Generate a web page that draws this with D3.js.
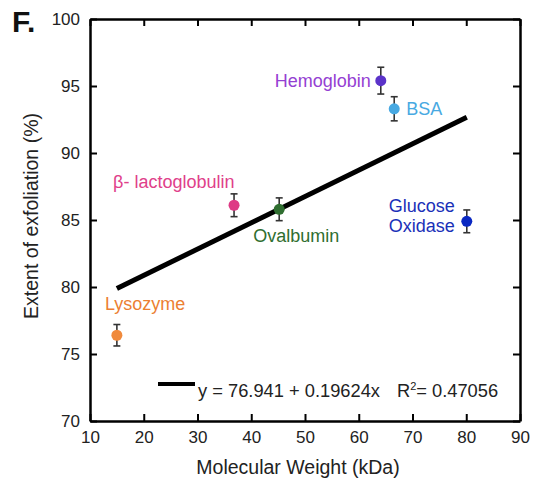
<!DOCTYPE html>
<html>
<head>
<meta charset="utf-8">
<script src="https://cdn.jsdelivr.net/npm/d3@7"></script>
<style>
  body { margin: 0; background: #fff; }
  svg { font-family: "Liberation Sans", Arial, sans-serif; }
</style>
</head>
<body>
<svg id="chart" width="533" height="480"></svg>
<script>
// protein data
const proteins = ["Lysozyme", "β- lactoglobulin", "Ovalbumin", "Hemoglobin", "BSA", "Glucose Oxidase"];
const molWeight = [15.0, 36.8, 45.2, 64.1, 66.6, 80.1];
const exfoliation = [76.4, 86.1, 85.8, 95.4, 93.3, 84.9];
const errBar = [0.8, 0.85, 0.85, 1.0, 0.9, 0.85];
const colors = ["#f08a3c", "#de3a85", "#2f6e30", "#5b33c9", "#48a9e2", "#0a28c2"];
const labelColors = ["#ec7f32", "#e0408a", "#2f6e30", "#9440d2", "#48a9e2", "#1a30b8"];
const xTicks = [10, 20, 30, 40, 50, 60, 70, 80, 90];
const yTicks = [70, 75, 80, 85, 90, 95, 100];
const fitIntercept = 76.941, fitSlope = 0.19624, fitR2 = "0.47056";

const svg = d3.select("#chart");
const pLeft = 90, pRight = 520, pTop = 19, pBottom = 421;

const x = d3.scaleLinear().domain([10, 90]).range([pLeft, pRight]);
const y = d3.scaleLinear().domain([70, 100]).range([pBottom, pTop]);

// axes with inward ticks on all four sides
function styleAxis(g) {
  g.select(".domain").attr("stroke", "#000").attr("stroke-width", 2.5);
  g.selectAll(".tick line").attr("stroke", "#000").attr("stroke-width", 2);
  g.selectAll("text").attr("font-size", 17).attr("fill", "#222");
}
svg.append("g").attr("transform", "translate(0," + pBottom + ")")
  .call(d3.axisBottom(x).tickValues(xTicks).tickSizeInner(-7).tickSizeOuter(0).tickPadding(10))
  .call(styleAxis);
svg.append("g").attr("transform", "translate(0," + pTop + ")")
  .call(d3.axisTop(x).tickValues(xTicks).tickSizeInner(-7).tickSizeOuter(0).tickFormat(""))
  .call(styleAxis);
svg.append("g").attr("transform", "translate(" + pLeft + ",0)")
  .call(d3.axisLeft(y).tickValues(yTicks).tickSizeInner(-7).tickSizeOuter(0).tickPadding(10))
  .call(styleAxis);
svg.append("g").attr("transform", "translate(" + pRight + ",0)")
  .call(d3.axisRight(y).tickValues(yTicks).tickSizeInner(-7).tickSizeOuter(0).tickFormat(""))
  .call(styleAxis);

// axis titles
svg.append("text").attr("x", 298).attr("y", 474).attr("text-anchor", "middle")
  .attr("font-size", 19.5).attr("fill", "#222").text("Molecular Weight (kDa)");
svg.append("text").attr("transform", "translate(38,216) rotate(-90)").attr("text-anchor", "middle")
  .attr("font-size", 19.5).attr("fill", "#222").text("Extent of exfoliation (%)");
svg.append("text").attr("x", 12).attr("y", 32).attr("font-size", 30).attr("font-weight", "bold")
  .attr("fill", "#111").text("F.");

// fit line
const xr = d3.extent(molWeight);
svg.append("line")
  .attr("x1", x(xr[0])).attr("y1", y(fitIntercept + fitSlope * xr[0]))
  .attr("x2", x(xr[1])).attr("y2", y(fitIntercept + fitSlope * xr[1]))
  .attr("stroke", "#000").attr("stroke-width", 5);

// error bars + points
const pts = proteins.map((p, i) => ({ name: p, mw: molWeight[i], v: exfoliation[i], e: errBar[i], c: colors[i] }));
const eb = svg.append("g").attr("stroke", "#333").attr("stroke-width", 1.6);
pts.forEach(d => {
  eb.append("line").attr("x1", x(d.mw)).attr("x2", x(d.mw)).attr("y1", y(d.v - d.e)).attr("y2", y(d.v + d.e));
  [d.v - d.e, d.v + d.e].forEach(v => {
    eb.append("line").attr("x1", x(d.mw) - 3.5).attr("x2", x(d.mw) + 3.5).attr("y1", y(v)).attr("y2", y(v));
  });
});
svg.selectAll("circle.pt").data(pts).enter().append("circle")
  .attr("cx", d => x(d.mw)).attr("cy", d => y(d.v)).attr("r", 5.5).attr("fill", d => d.c);

// labels
const labelPos = [
  { dx: -12, dy: 2.4, anchor: "start", lines: ["Lysozyme"] },
  { dx: -121, dy: 1.74, anchor: "start", lines: ["β- lactoglobulin"] },
  { dx: -26, dy: -1.98, anchor: "start", lines: ["Ovalbumin"] },
  { dx: -10, dy: 0, anchor: "end", lines: ["Hemoglobin"] },
  { dx: 12, dy: 0, anchor: "start", lines: ["BSA"] },
  { dx: -12, dy: 0.4, anchor: "end", lines: ["Glucose", "Oxidase"] }
];
pts.forEach((d, i) => {
  const lp = labelPos[i];
  const t = svg.append("text").attr("font-size", 18).attr("fill", labelColors[i])
    .attr("text-anchor", lp.anchor);
  lp.lines.forEach((ln, j) => {
    t.append("tspan").attr("x", x(d.mw) + lp.dx)
      .attr("y", y(d.v + lp.dy) + 6.5 + (j - (lp.lines.length - 1) / 2) * 20)
      .text(ln);
  });
});

// equation legend
svg.append("line").attr("x1", 158).attr("x2", 195).attr("y1", 384).attr("y2", 384)
  .attr("stroke", "#000").attr("stroke-width", 4);
const eq = svg.append("text").attr("x", 198).attr("y", 397).attr("font-size", 18.3).attr("fill", "#222");
eq.append("tspan").text("y = " + fitIntercept + " + " + fitSlope + "x");
eq.append("tspan").attr("dx", 17).text("R");
eq.append("tspan").attr("dy", -7).attr("font-size", 11).text("2");
eq.append("tspan").attr("dy", 7).text("= " + fitR2);
</script>
</body>
</html>
